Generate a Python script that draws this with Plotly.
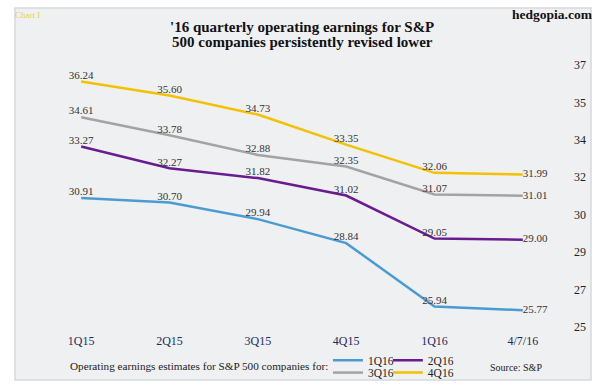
import plotly.graph_objects as go

categories = ["1Q15", "2Q15", "3Q15", "4Q15", "1Q16", "4/7/16"]
series_names = ["1Q16", "2Q16", "3Q16", "4Q16"]
est_1q16 = [30.91, 30.70, 29.94, 28.84, 25.94, 25.77]
est_2q16 = [33.27, 32.27, 31.82, 31.02, 29.05, 29.00]
est_3q16 = [34.61, 33.78, 32.88, 32.35, 31.07, 31.01]
est_4q16 = [36.24, 35.60, 34.73, 33.35, 32.06, 31.99]
y_tick_vals = [25 + k * 12 / 7 for k in range(8)]
y_tick_text = ["25", "27", "29", "30", "32", "34", "35", "37"]

colors = ["#4b9bd2", "#6a1b8f", "#a3a3a3", "#f2c200"]
serif = "Liberation Serif"

fig = go.Figure()
all_series = [est_1q16, est_2q16, est_3q16, est_4q16]
legend_ids = ["legend2", "legend3", "legend4", "legend5"]
positions = ["top center"] * (len(categories) - 1) + ["middle right"]
for i, (name, vals) in enumerate(zip(series_names, all_series)):
    fig.add_trace(go.Scatter(
        x=categories, y=vals, mode="lines+text", name=name,
        line=dict(color=colors[i], width=2.5),
        text=[f"{v:.2f}" for v in vals], textposition=positions,
        textfont=dict(family=serif, size=11, color="#333333"),
        legend=legend_ids[i], showlegend=True,
        cliponaxis=False, hoverinfo="skip",
    ))

leg_common = dict(orientation="h", xref="paper", yanchor="middle", xanchor="left",
                  bgcolor="rgba(0,0,0,0)",
                  font=dict(family=serif, size=11.5, color="#222222"),
                  tracegroupgap=0, itemwidth=30)

fig.update_layout(
    width=602, height=390,
    showlegend=True,
    margin=dict(l=37, r=35, t=65, b=63, autoexpand=False),
    paper_bgcolor="#ffffff",
    plot_bgcolor="#fbfbeb",
    font=dict(family=serif, color="#222222"),
    xaxis=dict(type="category", range=[-0.5, 5.5], showgrid=False, zeroline=False,
               showline=False, ticks="", ticklabelstandoff=5,
               tickfont=dict(family=serif, size=12, color="#1f2a5a")),
    yaxis=dict(range=[25, 37], side="right", tickvals=y_tick_vals, ticktext=y_tick_text,
               showgrid=False, zeroline=False, showline=False, ticks="", ticklabelstandoff=6,
               tickfont=dict(family=serif, size=12, color="#222222")),
    legend2=dict(x=0.549, y=-0.127, **leg_common),
    legend3=dict(x=0.662, y=-0.127, **leg_common),
    legend4=dict(x=0.549, y=-0.174, **leg_common),
    legend5=dict(x=0.662, y=-0.174, **leg_common),
    shapes=[
        dict(type="rect", xref="paper", yref="paper", x0=-0.0415, x1=1.0453,
             y0=-0.2027, y1=1.2176, line=dict(color="#d6d9de", width=1.5),
             fillcolor="#eff0f2", layer="below"),
    ],
    annotations=[
        dict(text="<b>'16 quarterly operating earnings for S&P</b>",
             xref="paper", yref="paper", x=0.5, y=1.145, xanchor="center", yanchor="middle",
             showarrow=False, font=dict(family=serif, size=15, color="#111111")),
        dict(text="<b>500 companies persistently revised lower</b>",
             xref="paper", yref="paper", x=0.5, y=1.086, xanchor="center", yanchor="middle",
             showarrow=False, font=dict(family=serif, size=15, color="#111111")),
        dict(text="Chart I", xref="paper", yref="paper", x=-0.045, y=1.191,
             xanchor="left", yanchor="middle", showarrow=False,
             font=dict(family=serif, size=9, color="#e8d24a")),
        dict(text="<b>hedgopia.com</b>", xref="paper", yref="paper", x=1.053, y=1.191,
             xanchor="right", yanchor="middle", showarrow=False,
             font=dict(family=serif, size=13.5, color="#111111")),
        dict(text="Operating earnings estimates for S&P 500 companies for:", xref="paper",
             yref="paper", x=0.0585, y=-0.149, xanchor="left", yanchor="middle",
             showarrow=False, font=dict(family=serif, size=11.2, color="#222222")),
        dict(text="Source: S&P", xref="paper", yref="paper", x=0.85, y=-0.153,
             xanchor="left", yanchor="middle", showarrow=False,
             font=dict(family=serif, size=10, color="#222222")),
    ],
)

fig.write_html("out.html", config={"displayModeBar": False},
               post_script="document.body.style.margin='0';document.body.style.overflow='hidden';")
